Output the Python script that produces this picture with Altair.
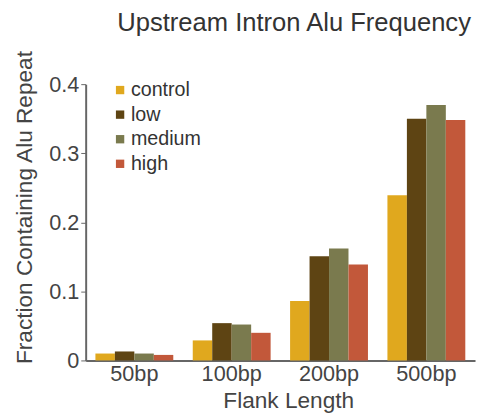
import altair as alt
import pandas as pd

flanks = ["50bp", "100bp", "200bp", "500bp"]
groups = ["control", "low", "medium", "high"]
control = [0.010, 0.029, 0.086, 0.239]
low = [0.013, 0.054, 0.151, 0.350]
medium = [0.010, 0.052, 0.162, 0.370]
high = [0.008, 0.040, 0.139, 0.348]
colors = ["#E0A81E", "#5E4413", "#7A7A4E", "#C2583A"]

rows = []
for g, vals in zip(groups, [control, low, medium, high]):
    for f, v in zip(flanks, vals):
        rows.append({"flank": f, "group": g, "value": v})
df = pd.DataFrame(rows)

FONT = "Liberation Sans"

chart = alt.Chart(df).mark_bar().encode(
    x=alt.X("flank:N", sort=flanks,
            scale=alt.Scale(paddingInner=0.2, paddingOuter=0.1),
            axis=alt.Axis(title="Flank Length", labelAngle=0, ticks=False,
                          labelPadding=3, titlePadding=6, titleX=206,
                          titleFontSize=23,
                          domainColor="#666666", domainWidth=2)),
    xOffset=alt.XOffset("group:N", sort=groups),
    y=alt.Y("value:Q", scale=alt.Scale(domain=[0, 0.4], nice=False),
            axis=alt.Axis(title="Fraction Containing Alu Repeat",
                          values=[0, 0.1, 0.2, 0.3, 0.4],
                          labelExpr="datum.value == 0 ? '0' : format(datum.value, '.1f')",
                          grid=False, tickSize=5, tickColor="#666666",
                          domainColor="#666666", domainWidth=2,
                          labelPadding=2, titleX=-62, titleY=125,
                          titleFontSize=23,
                          titleAlign="center", titleBaseline="middle")),
    color=alt.Color("group:N", sort=groups,
                    scale=alt.Scale(domain=groups, range=colors),
                    legend=alt.Legend(title=None, orient="none", legendX=25, legendY=-4,
                                      symbolType="square", symbolSize=72,
                                      symbolStrokeWidth=0, labelFontSize=20,
                                      labelColor="#333333", rowPadding=5,
                                      labelOffset=1, labelFont=FONT)),
).properties(
    width=396, height=281,
    autosize=alt.AutoSizeParams(type="none"),
    padding={"left": 79, "top": 74, "right": 2, "bottom": 50},
    title=alt.TitleParams("Upstream Intron Alu Frequency", fontSize=26,
                          font=FONT, fontWeight="normal", color="#333333",
                          anchor="middle", dx=14, offset=14),
).configure_view(stroke=None).configure_axis(
    labelFont=FONT, titleFont=FONT, labelFontSize=22, titleFontSize=22,
    labelColor="#444444", titleColor="#444444", titleFontWeight="normal"
)

chart.save("out.html", embed_options={"renderer": "svg", "actions": False})
